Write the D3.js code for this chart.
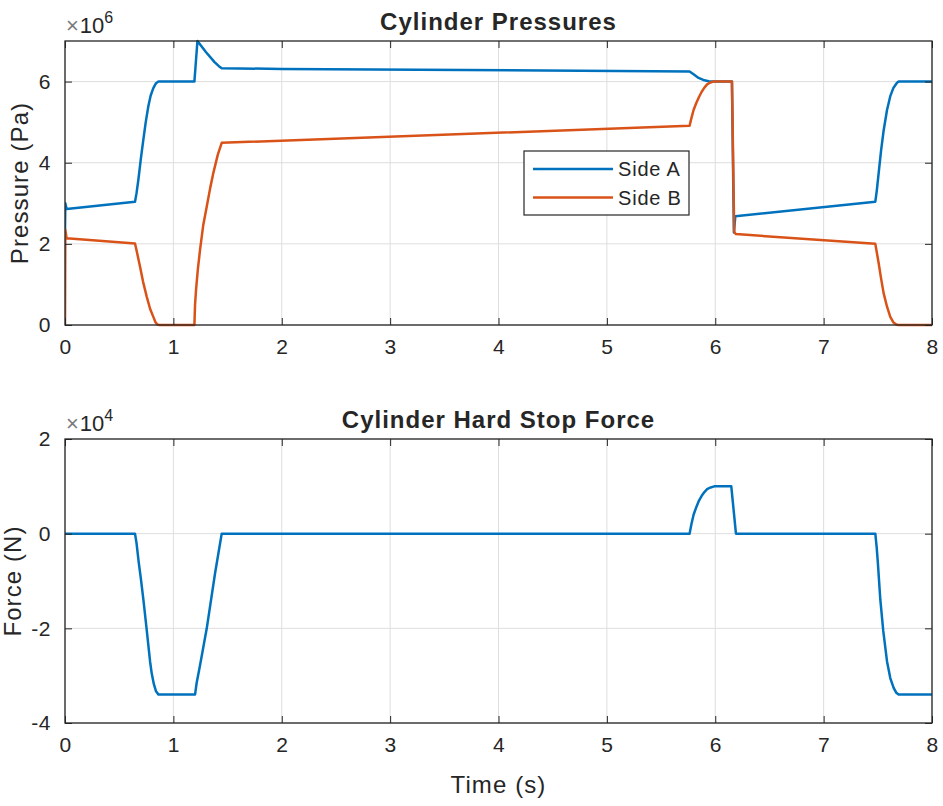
<!DOCTYPE html>
<html>
<head>
<meta charset="utf-8">
<script src="https://cdn.jsdelivr.net/npm/d3@7"></script>
<style>
  html, body { margin: 0; padding: 0; background: #ffffff; }
  svg { display: block; }
  text { font-family: "Liberation Sans", Arial, Helvetica, sans-serif; fill: #262626; }
</style>
</head>
<body>
<svg id="chart" width="943" height="806"></svg>
<script>
// ---------------- DATA ----------------
// Time axis (s)
const xTicks = [0, 1, 2, 3, 4, 5, 6, 7, 8];

// Cylinder pressures, values in units of 1e6 Pa
const pressureExponent = 6;
const pressureTicks = [0, 2, 4, 6];
const sideA_t = [0, 0.003, 0.015, 0.646, 0.66, 0.677, 0.70, 0.723, 0.745, 0.769, 0.79, 0.815, 0.84, 0.862,
  1.194, 1.222, 1.30, 1.38, 1.42, 1.446, 2.0, 5.763, 5.80, 5.846, 5.89, 5.939, 6.0,
  6.154, 6.172, 6.185, 7.477, 7.49, 7.508, 7.53, 7.554, 7.585, 7.615, 7.645, 7.677, 7.692, 8.0];
const sideA_p = [2.35, 3.0, 2.86, 3.04, 3.25, 3.58, 4.1, 4.57, 5.0, 5.39, 5.65, 5.84, 5.96, 6.0,
  6.0, 7.0, 6.73, 6.48, 6.38, 6.33, 6.31, 6.25, 6.18, 6.09, 6.04, 6.01, 6.0,
  6.0, 2.28, 2.68, 3.04, 3.3, 3.75, 4.3, 4.8, 5.3, 5.64, 5.85, 5.97, 6.0, 6.0];
const sideB_t = [0, 0.003, 0.015, 0.646, 0.665, 0.692, 0.72, 0.754, 0.785, 0.815, 0.835, 0.852, 0.87,
  1.194, 1.2, 1.209, 1.225, 1.246, 1.275, 1.308, 1.34, 1.369, 1.41, 1.446, 5.763, 5.78, 5.80, 5.825, 5.85,
  5.875, 5.90, 5.925, 5.95, 5.98, 6.154, 6.175, 6.19, 7.477, 7.49, 7.508, 7.53, 7.554, 7.585, 7.615,
  7.645, 7.671, 7.69, 8.0];
const sideB_p = [0, 2.35, 2.14, 2.01, 1.78, 1.44, 1.07, 0.7, 0.4, 0.2, 0.07, 0.01, 0,
  0, 0.5, 0.86, 1.35, 1.85, 2.45, 2.92, 3.38, 3.75, 4.2, 4.49, 4.91, 5.1, 5.3, 5.47, 5.62,
  5.75, 5.85, 5.93, 5.97, 6.0, 6.0, 2.3, 2.24, 2.0, 1.8, 1.52, 1.15, 0.78, 0.45, 0.2,
  0.06, 0.01, 0, 0];
const seriesNames = ["Side A", "Side B"];

// Hard stop force, values in units of 1e4 N
const forceExponent = 4;
const forceTicks = [-4, -2, 0, 2];
const force_t = [0, 0.646, 0.66, 0.68, 0.70, 0.723, 0.75, 0.785, 0.80, 0.82, 0.84, 0.862,
  1.2, 1.215, 1.246, 1.308, 1.385, 1.446, 5.763, 5.78, 5.80, 5.825, 5.85, 5.875, 5.90, 5.925, 5.95, 5.991,
  6.148, 6.191, 7.477, 7.49, 7.50, 7.523, 7.55, 7.585, 7.615, 7.646, 7.67, 7.692, 8.0];
const force_v = [0, 0, -0.2, -0.6, -0.95, -1.39, -1.95, -2.7, -2.95, -3.18, -3.33, -3.4,
  -3.4, -3.15, -2.78, -2.0, -0.83, 0, 0, 0.2, 0.4, 0.56, 0.7, 0.8, 0.88, 0.94, 0.97, 1.0,
  1.0, 0, 0, -0.3, -0.6, -1.39, -2.05, -2.7, -3.05, -3.26, -3.36, -3.4, -3.4];

// ---------------- STYLE ----------------
const BLUE = "#0072BD", ORANGE = "#D95319";
const AX = "#262626", GRID = "#dedede";
const TICK_FS = 21, LABEL_FS = 24, TITLE_FS = 24, LEGEND_FS = 20;

const svg = d3.select("#chart");

function drawPanel(opts) {
  const { left, right, top, bottom, yDomain, yTickVals, exponent, title, ylabel, xlabel, series, ylabelX } = opts;
  const x = d3.scaleLinear().domain([0, 8]).range([left, right]);
  const y = d3.scaleLinear().domain(yDomain).range([bottom, top]);
  const g = svg.append("g");

  // grid
  g.append("g").selectAll("line").data(xTicks).join("line")
    .attr("x1", d => x(d)).attr("x2", d => x(d)).attr("y1", top).attr("y2", bottom)
    .attr("stroke", GRID).attr("stroke-width", 1);
  g.append("g").selectAll("line").data(yTickVals).join("line")
    .attr("y1", d => y(d)).attr("y2", d => y(d)).attr("x1", left).attr("x2", right)
    .attr("stroke", GRID).attr("stroke-width", 1);

  // data lines
  const line = d3.line().x(d => x(d[0])).y(d => y(d[1]));
  const clipId = "clip" + Math.round(top);
  svg.append("clipPath").attr("id", clipId).append("rect")
    .attr("x", left).attr("y", top - 2).attr("width", right - left).attr("height", bottom - top + 4);
  series.forEach(s => {
    const pts = s.t.map((t, i) => [t, s.v[i]]);
    g.append("path").datum(pts).attr("d", line)
      .attr("fill", "none").attr("stroke", s.color).attr("stroke-width", 2.5)
      .attr("stroke-linejoin", "round").attr("clip-path", `url(#${clipId})`);
  });

  // axes
  const tl = 7;
  const xAxisB = d3.axisBottom(x).tickValues(xTicks).tickSize(-tl).tickPadding(14).tickFormat(d3.format("d"));
  const xAxisT = d3.axisTop(x).tickValues(xTicks).tickSize(-tl).tickFormat("");
  const yAxisL = d3.axisLeft(y).tickValues(yTickVals).tickSize(-tl).tickPadding(14).tickFormat(d => String(d));
  const yAxisR = d3.axisRight(y).tickValues(yTickVals).tickSize(-tl).tickFormat("");

  const styleAxis = sel => {
    sel.select(".domain").remove();
    sel.selectAll("line").attr("stroke", AX).attr("stroke-width", 1);
    sel.selectAll("text").attr("fill", AX).style("font-size", TICK_FS + "px")
      .style("letter-spacing", "0.5px")
      .style("font-family", '"Liberation Sans", Arial, sans-serif');
  };
  g.append("g").attr("transform", `translate(0,${bottom})`).call(xAxisB).call(styleAxis);
  g.append("g").attr("transform", `translate(0,${top})`).call(xAxisT).call(styleAxis);
  g.append("g").attr("transform", `translate(${left},0)`).call(yAxisL).call(styleAxis);
  g.append("g").attr("transform", `translate(${right},0)`).call(yAxisR).call(styleAxis);

  // box
  g.append("rect").attr("x", left).attr("y", top).attr("width", right - left).attr("height", bottom - top)
    .attr("fill", "none").attr("stroke", AX).attr("stroke-width", 1.3);

  // exponent label
  const ex = g.append("text").attr("x", left + 1).attr("y", top - 8).style("font-size", "22px");
  ex.append("tspan").text("\u00d7").attr("fill", "#7a7a7a");
  ex.append("tspan").text("10").attr("dx", 1);
  ex.append("tspan").text(exponent).attr("dy", -10).style("font-size", "16px");

  // title
  g.append("text").attr("x", (left + right) / 2).attr("y", top - 11).attr("text-anchor", "middle")
    .style("font-size", TITLE_FS + "px").style("font-weight", "bold").style("letter-spacing", "1px").text(title);

  // y label
  const cy = (top + bottom) / 2;
  g.append("text").attr("transform", `translate(${ylabelX},${cy}) rotate(-90)`).attr("text-anchor", "middle")
    .style("font-size", LABEL_FS + "px").style("letter-spacing", "1.1px").text(ylabel);

  if (xlabel) {
    g.append("text").attr("x", (left + right) / 2).attr("y", bottom + 70).attr("text-anchor", "middle")
      .style("font-size", LABEL_FS + "px").style("letter-spacing", "1.1px").text(xlabel);
  }
  return { x, y, g };
}

drawPanel({
  left: 65, right: 932, top: 41, bottom: 325,
  yDomain: [0, 7], yTickVals: pressureTicks, exponent: pressureExponent,
  title: "Cylinder Pressures", ylabel: "Pressure (Pa)", ylabelX: 28,
  series: [
    { t: sideA_t, v: sideA_p, color: BLUE },
    { t: sideB_t, v: sideB_p, color: ORANGE }
  ]
});

drawPanel({
  left: 65, right: 932, top: 439, bottom: 723,
  yDomain: [-4, 2], yTickVals: forceTicks, exponent: forceExponent,
  title: "Cylinder Hard Stop Force", ylabel: "Force (N)", ylabelX: 21, xlabel: "Time (s)",
  series: [{ t: force_t, v: force_v, color: BLUE }]
});

// legend
const lg = svg.append("g");
const lx = 524, ly = 151, lw = 165, lh = 64;
lg.append("rect").attr("x", lx).attr("y", ly).attr("width", lw).attr("height", lh)
  .attr("fill", "#ffffff").attr("stroke", AX).attr("stroke-width", 1.2);
[BLUE, ORANGE].forEach((c, i) => {
  const yy = ly + 18 + i * 28.5;
  lg.append("line").attr("x1", lx + 9).attr("x2", lx + 89).attr("y1", yy).attr("y2", yy)
    .attr("stroke", c).attr("stroke-width", 2.5);
  lg.append("text").attr("x", lx + 94).attr("y", yy).attr("dy", "0.35em")
    .style("font-size", LEGEND_FS + "px").style("letter-spacing", "0.8px").text(seriesNames[i]);
});
</script>
</body>
</html>
